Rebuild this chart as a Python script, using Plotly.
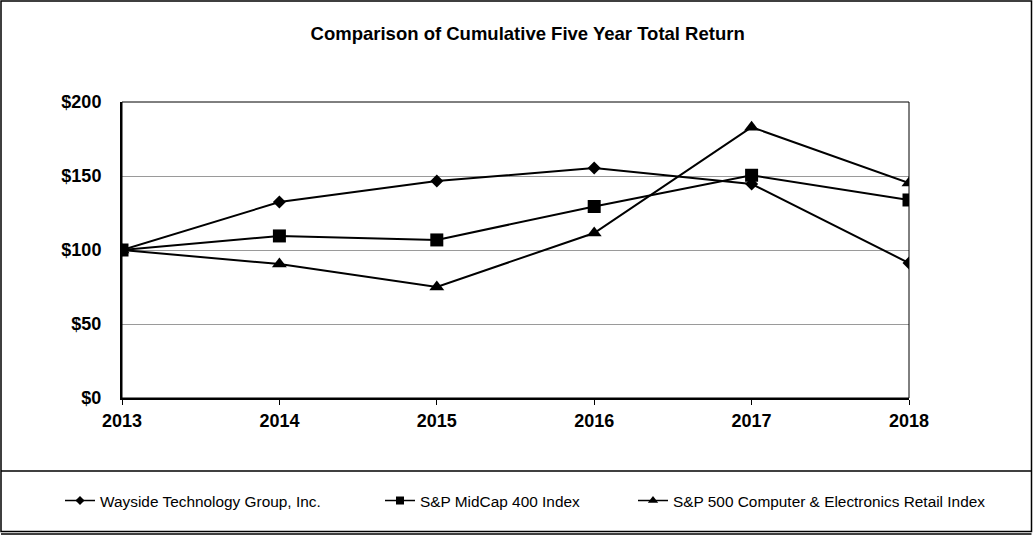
import plotly.graph_objects as go

years = [2013, 2014, 2015, 2016, 2017, 2018]
wayside = [100, 132.4, 146.6, 155.4, 144.6, 91.2]
midcap = [100, 109.5, 106.8, 129.4, 150.5, 133.8]
sp500_cer = [100, 90.5, 75.0, 111.5, 183.0, 145.3]
series_names = ["Wayside Technology Group, Inc.", "S&P MidCap 400 Index",
                "S&P 500 Computer & Electronics Retail Index"]
y_ticks = [0, 50, 100, 150, 200]
y_tick_labels = ["$0", "$50", "$100", "$150", "$200"]

fig = go.Figure()
specs = [(wayside, "diamond", 10, 7, "legend"),
         (midcap, "square", 13, 8, "legend2"),
         (sp500_cer, "triangle-up", 13, 9, "legend3")]
for (vals, sym, sz, lsz, leg), name in zip(specs, series_names):
    fig.add_trace(go.Scatter(
        x=years, y=vals, name=name, mode="lines+markers",
        line=dict(color="black", width=2),
        marker=dict(symbol=sym, size=sz, color="black"),
        showlegend=False, legendgroup=name,
    ))
    # legend-only entry with the smaller legend glyph
    fig.add_trace(go.Scatter(
        x=[None], y=[None], name=name, mode="lines+markers",
        line=dict(color="black", width=1.5),
        marker=dict(symbol=sym, size=lsz, color="black"),
        legend=leg, showlegend=True, legendgroup=name,
    ))

L, R, T, B = 122, 124, 102, 137
W, H = 1033, 535
pw, ph = W - L - R, H - T - B
def px(x):
    return (x - L) / pw
def py(y):
    return (H - B - y) / ph

legfont = dict(family="Liberation Sans, Arial", size=15.4, color="black")
def legend_at(xpix):
    return dict(x=px(xpix), y=py(501), xanchor="left", yanchor="middle",
                orientation="h", font=legfont, bgcolor="rgba(0,0,0,0)",
                borderwidth=0, visible=True)

fig.update_layout(
    width=W, height=H,
    showlegend=True,
    margin=dict(l=L, r=R, t=T, b=B),
    paper_bgcolor="white", plot_bgcolor="white",
    title=dict(text="<b>Comparison of Cumulative Five Year Total Return</b>",
               x=px(524), xanchor="center", y=1 - 34 / H, yanchor="middle",
               font=dict(family="Liberation Sans, Arial", size=18.5, color="black")),
    font=dict(family="Liberation Sans, Arial", color="black"),
    xaxis=dict(range=[2013, 2018], tickvals=years,
               ticktext=[f"<b>{y}</b>" for y in years],
               tickfont=dict(size=18), ticks="outside", ticklen=5,
               tickcolor="black", tickwidth=1,
               showline=True, linecolor="black", linewidth=2,
               showgrid=False, zeroline=False, fixedrange=True),
    yaxis=dict(range=[0, 200], tickvals=y_ticks,
               ticktext=[f"<b>{t}</b>" for t in y_tick_labels],
               tickfont=dict(size=18), ticks="", ticklabelstandoff=15,
               showline=True, linecolor="black", linewidth=2,
               showgrid=True, gridcolor="#9a9a9a", gridwidth=1,
               zeroline=False, fixedrange=True),
    legend=legend_at(60),
    legend2=legend_at(380),
    legend3=legend_at(633),
    shapes=[
        dict(type="rect", xref="paper", yref="paper", x0=0, x1=1, y0=0, y1=1,
             line=dict(color="black", width=1), layer="above"),
        dict(type="rect", xref="paper", yref="paper",
             x0=px(1), x1=px(1031.5), y0=py(531.5), y1=py(1),
             line=dict(color="black", width=1.5)),
        dict(type="line", xref="paper", yref="paper",
             x0=px(1), x1=px(1031.5), y0=py(471), y1=py(471),
             line=dict(color="black", width=1.5)),
        dict(type="line", xref="paper", yref="paper",
             x0=px(1), x1=px(1031.5), y0=py(534), y1=py(534),
             line=dict(color="black", width=1.5)),
    ],
)

fig.write_html("out.html", config={"displayModeBar": False},
               post_script="document.body.style.margin='0';document.body.style.overflow='hidden';")
